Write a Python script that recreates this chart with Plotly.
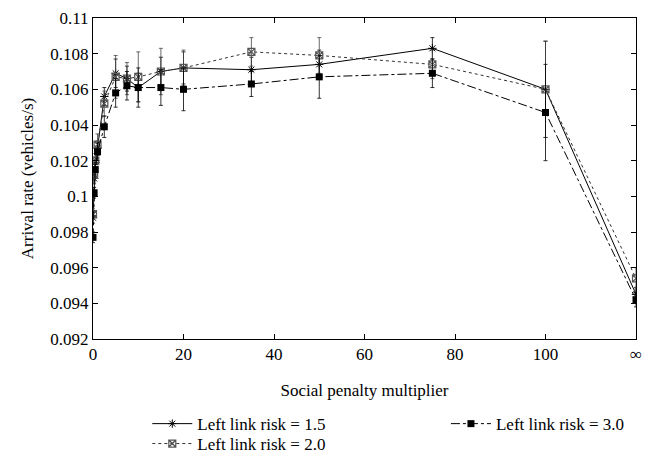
import plotly.graph_objects as go

# x positions: the last point is "infinity", drawn at the axis slot labelled ∞
INF_POS = 120
multipliers = [0, 0.25, 0.5, 1, 2.5, 5, 7.5, 10, 15, 20, 35, 50, 75, 100, INF_POS]

risk_15 = [0.0988, 0.1010, 0.1019, 0.1027, 0.1056, 0.1069, 0.1066, 0.1061,
           0.1070, 0.1072, 0.1071, 0.1074, 0.1083, 0.1060, 0.0945]
risk_15_err = [0.0003, 0.0003, 0.0003, 0.0004, 0.0005, 0.0008, 0.0007, 0.0008,
               0.0008, 0.0009, 0.0007, 0.0008, 0.0006, 0.0027, 0.0004]

risk_20 = [0.0990, 0.1012, 0.1020, 0.1029, 0.1052, 0.1067, 0.1066, 0.1067,
           0.1070, 0.1072, 0.1081, 0.1079, 0.1074, 0.1060, 0.0954]
risk_20_err = [0.0003, 0.0003, 0.0004, 0.0006, 0.0007, 0.0012, 0.0009, 0.0014,
               0.0013, 0.0010, 0.0008, 0.0010, 0.0008, 0.0027, 0.0006]

risk_30 = [0.0977, 0.1002, 0.1015, 0.1025, 0.1039, 0.1058, 0.1062, 0.1061,
           0.1061, 0.1060, 0.1063, 0.1067, 0.1069, 0.1047, 0.0942]
risk_30_err = [0.0003, 0.0003, 0.0003, 0.0005, 0.0006, 0.0008, 0.0008, 0.0011,
               0.0010, 0.0012, 0.0007, 0.0012, 0.0008, 0.0027, 0.0004]

x_tick_vals = [0, 20, 40, 60, 80, 100, INF_POS]
x_tick_text = ["0", "20", "40", "60", "80", "100", "∞"]
y_tick_vals = [0.092, 0.094, 0.096, 0.098, 0.1, 0.102, 0.104, 0.106, 0.108, 0.11]
y_tick_text = ["0.092", "0.094", "0.096", "0.098", "0.1", "0.102", "0.104",
               "0.106", "0.108", "0.11"]

FONT = "Liberation Serif"
FS = 17

fig = go.Figure()

fig.add_trace(go.Scatter(
    x=multipliers, y=risk_15, name="Left link risk = 1.5", mode="lines+markers",
    line=dict(color="black", width=1, dash="solid"),
    marker=dict(symbol="asterisk-open", size=7, color="black", line=dict(width=1, color="black")),
    error_y=dict(type="data", array=risk_15_err, color="black", thickness=0.8, width=2),
    legend="legend",
))
fig.add_trace(go.Scatter(
    x=multipliers, y=risk_20, name="Left link risk = 2.0", mode="lines+markers",
    line=dict(color="#333333", width=1, dash="dot"),
    marker=dict(symbol="square-x-open", size=7, color="#555555", line=dict(width=1.2, color="#555555")),
    error_y=dict(type="data", array=risk_20_err, color="#444444", thickness=0.8, width=2),
    legend="legend3",
))
fig.add_trace(go.Scatter(
    x=multipliers, y=risk_30, name="Left link risk = 3.0", mode="lines+markers",
    line=dict(color="black", width=1, dash="dashdot"),
    marker=dict(symbol="square", size=7, color="black"),
    error_y=dict(type="data", array=risk_30_err, color="black", thickness=0.8, width=2),
    legend="legend2",
))

axis_common = dict(
    showgrid=False, zeroline=False, showline=True, linecolor="black", linewidth=1,
    mirror="ticks", ticks="inside", ticklen=5, tickcolor="black",
    tickfont=dict(family=FONT, size=FS, color="black"),
    ticklabeloverflow="allow",
)

legend_common = dict(
    xanchor="left", yanchor="top",
    orientation="v", bgcolor="rgba(0,0,0,0)", tracegroupgap=0,
    font=dict(family=FONT, size=FS, color="black"), itemwidth=40,
)

fig.update_layout(
    width=659, height=446,
    margin=dict(l=85, r=31, t=10, b=115, autoexpand=False),
    paper_bgcolor="white", plot_bgcolor="white",
    font=dict(family=FONT, size=FS, color="black"),
    xaxis=dict(range=[0, INF_POS], tickvals=x_tick_vals, ticktext=x_tick_text,
               title=dict(text="Social penalty multiplier", standoff=20,
                          font=dict(family=FONT, size=FS)),
               **axis_common),
    yaxis=dict(range=[0.092, 0.11], tickvals=y_tick_vals, ticktext=y_tick_text,
               title=dict(text="Arrival rate (vehicles/s)", standoff=12,
                          font=dict(family=FONT, size=FS)),
               **axis_common),
    legend=dict(x=0.10, y=-0.209, **legend_common),
    legend3=dict(x=0.10, y=-0.271, **legend_common),
    legend2=dict(x=0.65, y=-0.209, **legend_common),
    showlegend=True,
)

fig.write_html("out.html")
